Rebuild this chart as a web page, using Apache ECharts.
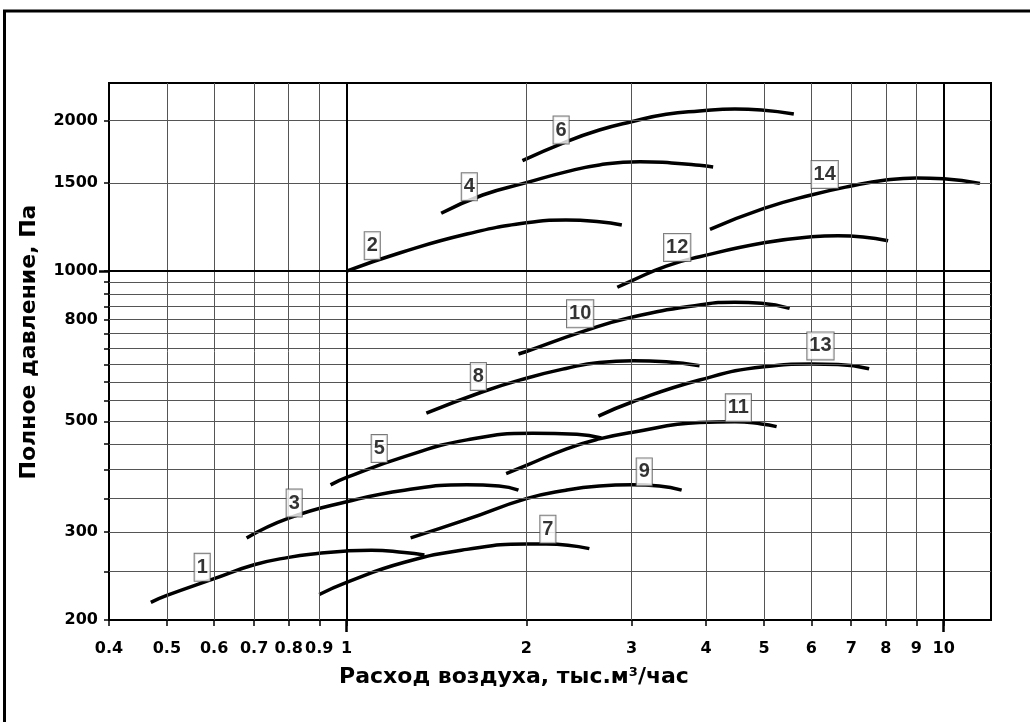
<!DOCTYPE html>
<html>
<head>
<meta charset="utf-8">
<script src="https://cdn.jsdelivr.net/npm/echarts@6/dist/echarts.min.js"></script>
<style>
  html, body { margin: 0; padding: 0; background: #fff; }
  #chart { width: 1030px; height: 722px; }
</style>
</head>
<body>
<div id="chart"></div>
<script>
// оси: расход воздуха (тыс. м3/час) и полное давление (Па), обе логарифмические
const xTickValues = [0.4, 0.5, 0.6, 0.7, 0.8, 0.9, 1, 2, 3, 4, 5, 6, 7, 8, 9, 10]
const xGridValues = [0.5, 0.6, 0.7, 0.8, 0.9, 2, 3, 4, 5, 6, 7, 8, 9]
const xBoldValues = [1, 10]
const yTickValues = [200, 250, 300, 350, 400, 450, 500, 550, 600, 650, 700, 750, 800, 850, 900, 950, 1000, 1500, 2000]
const yLabelValues = [200, 300, 500, 800, 1000, 1500, 2000]
const yGridValues = [250, 300, 350, 400, 450, 500, 550, 600, 650, 700, 750, 800, 850, 900, 950, 1500, 2000]
const yBoldValues = [1000]

// характеристики вентиляторов 1..14
const q1 = [0.47, 0.5, 0.6, 0.7, 0.8, 0.9, 1.0, 1.1, 1.25, 1.35]
const p1 = [217, 224, 242, 258, 267, 272, 275, 276, 273, 270]
const q2 = [1.0, 1.23, 1.59, 2.0, 2.33, 2.65, 2.89]
const p2 = [1000, 1088, 1186, 1249, 1265, 1255, 1236]
const q3 = [0.68, 0.8, 1.0, 1.25, 1.59, 1.8, 1.94]
const p3 = [292, 320, 345, 364, 373, 371, 364]
const q4 = [1.44, 1.69, 2.0, 2.33, 2.65, 3.1, 3.5, 3.9, 4.11]
const p4 = [1305, 1420, 1503, 1580, 1631, 1656, 1646, 1628, 1616]
const q5 = [0.94, 1.0, 1.25, 1.59, 2.05, 2.43, 2.67]
const p5 = [373, 386, 425, 459, 473, 471, 463]
const q6 = [1.97, 2.33, 2.65, 3.0, 3.43, 3.9, 4.47, 4.95, 5.61]
const p6 = [1664, 1815, 1916, 1991, 2060, 2091, 2111, 2101, 2063]
const q7 = [0.9, 1.0, 1.25, 1.59, 2.0, 2.16, 2.55]
const p7 = [225, 238, 261, 277, 284, 284, 278]
const q8 = [1.36, 1.69, 2.0, 2.33, 2.65, 3.02, 3.43, 3.9]
const p8 = [519, 573, 610, 638, 656, 661, 658, 646]
const q9 = [1.28, 1.59, 2.0, 2.33, 2.65, 3.0, 3.34, 3.64]
const p9 = [292, 318, 350, 364, 371, 373, 371, 364]
const q10 = [1.94, 2.0, 2.49, 3.0, 3.9, 4.47, 4.95, 5.52]
const p10 = [682, 690, 757, 808, 855, 866, 862, 842]
const q11 = [1.85, 2.0, 2.33, 2.65, 3.0, 3.9, 4.47, 4.95, 5.25]
const p11 = [393, 408, 440, 461, 475, 497, 499, 494, 488]
const q12 = [2.84, 3.0, 3.43, 3.9, 5.0, 6.0, 6.65, 8.07]
const p12 = [928, 956, 1023, 1068, 1139, 1171, 1177, 1150]
const q13 = [2.64, 3.0, 3.9, 5.0, 6.0, 6.65, 7.5]
const p13 = [512, 546, 605, 643, 651, 650, 637]
const q14 = [4.06, 5.0, 6.0, 7.0, 8.0, 9.0, 10.0, 11.5]
const p14 = [1212, 1335, 1420, 1480, 1521, 1536, 1531, 1498]

// подписи кривых (номера в рамках)
const labelText = ['1', '2', '3', '4', '5', '6', '7', '8', '9', '10', '11', '12', '13', '14']
const labelQ = [0.573, 1.104, 0.817, 1.605, 1.134, 2.287, 2.173, 1.662, 3.151, 2.461, 4.53, 3.578, 6.217, 6.32]
const labelP = [255, 1124, 343, 1475, 441, 1916, 304, 615, 396, 821, 532, 1115, 708, 1561]

const curvesQ = [q1, q2, q3, q4, q5, q6, q7, q8, q9, q10, q11, q12, q13, q14]
const curvesP = [p1, p2, p3, p4, p5, p6, p7, p8, p9, p10, p11, p12, p13, p14]

const tickFont = '"DejaVu Sans", Verdana, sans-serif'
const numFont = '"Liberation Sans", Arial, sans-serif'
const fmt = v => String(+Number(v).toPrecision(6))

let myChart = echarts.init(document.getElementById('chart'), null, { renderer: 'canvas' })

// сетка: тонкие линии + жирные на 1, 10 и 1000
const gridLines = []
xGridValues.forEach(v => gridLines.push({ xAxis: v }))
yGridValues.forEach(v => gridLines.push({ yAxis: v }))
xBoldValues.forEach(v => gridLines.push({ xAxis: v, lineStyle: { color: '#000', width: 2 } }))
yBoldValues.forEach(v => gridLines.push({ yAxis: v, lineStyle: { color: '#000', width: 2 } }))

const series = [
  {
    type: 'line',
    data: [],
    z: 1,
    markLine: {
      silent: true,
      symbol: ['none', 'none'],
      label: { show: false },
      animation: false,
      lineStyle: { color: '#555', width: 1, type: 'solid' },
      data: gridLines
    }
  }
]
curvesQ.forEach((q, i) => {
  series.push({
    name: labelText[i],
    type: 'line',
    smooth: true,
    showSymbol: false,
    symbol: 'none',
    z: 3,
    lineStyle: { color: '#000', width: 3.5 },
    data: q.map((v, j) => [v, curvesP[i][j]])
  })
})
series.push({
  type: 'scatter',
  z: 5,
  symbolSize: 1,
  itemStyle: { color: 'rgba(0,0,0,0)' },
  label: {
    show: true,
    position: 'inside',
    formatter: p => labelText[p.dataIndex],
    color: '#000',
    fontFamily: numFont,
    fontWeight: 'bold',
    fontSize: 20,
    lineHeight: 20,
    backgroundColor: '#fff',
    borderColor: '#555',
    borderWidth: 1,
    padding: [4, 2, 3, 2]
  },
  data: labelQ.map((v, i) => [v, labelP[i]])
})

const options = {
  animation: false,
  backgroundColor: '#fff',
  grid: {
    left: 109,
    right: 39,
    top: 83,
    bottom: 102,
    show: true,
    borderColor: '#000',
    borderWidth: 2
  },
  xAxis: [
    {
      type: 'log',
      logBase: 10,
      min: 0.4,
      max: 12,
      position: 'bottom',
      axisLine: { lineStyle: { color: '#000', width: 2 } },
      axisTick: { customValues: xTickValues, length: 6, lineStyle: { color: '#000', width: 1.5 } },
      axisLabel: {
        customValues: xTickValues,
        formatter: fmt,
        margin: 21,
        color: '#000',
        fontFamily: tickFont,
        fontWeight: 'bold',
        fontSize: 16
      },
      splitLine: { show: false },
      minorTick: { show: false }
    },
    {
      type: 'log',
      logBase: 10,
      min: 0.4,
      max: 12,
      position: 'bottom',
      axisLine: { show: false },
      axisTick: { customValues: xBoldValues, length: 12, lineStyle: { color: '#000', width: 2.5 } },
      axisLabel: { show: false },
      splitLine: { show: false }
    }
  ],
  yAxis: [
    {
      type: 'log',
      logBase: 10,
      min: 200,
      max: 2380,
      position: 'left',
      axisLine: { lineStyle: { color: '#000', width: 2 } },
      axisTick: { customValues: yTickValues, length: 5, lineStyle: { color: '#000', width: 1.5 } },
      axisLabel: {
        customValues: yLabelValues,
        formatter: fmt,
        margin: 11,
        color: '#000',
        fontFamily: tickFont,
        fontWeight: 'bold',
        fontSize: 16
      },
      splitLine: { show: false },
      minorTick: { show: false }
    },
    {
      type: 'log',
      logBase: 10,
      min: 200,
      max: 2380,
      position: 'left',
      axisLine: { show: false },
      axisTick: { customValues: yBoldValues, length: 10, lineStyle: { color: '#000', width: 2.5 } },
      axisLabel: { show: false },
      splitLine: { show: false }
    }
  ],
  graphic: [
    {
      type: 'rect',
      shape: { x: 4.5, y: 11, width: 1060, height: 760 },
      style: { fill: 'none', stroke: '#000', lineWidth: 3 },
      silent: true
    },
    {
      type: 'text',
      x: 514,
      y: 677,
      style: {
        text: 'Расход воздуха, тыс.м{s|3}/час',
        rich: { s: { fontSize: 13, fontWeight: 'bold', fontFamily: tickFont, verticalAlign: 'top' } },
        fill: '#000',
        font: 'bold 22px "DejaVu Sans", Verdana, sans-serif',
        align: 'center',
        verticalAlign: 'middle'
      }
    },
    {
      type: 'text',
      x: 29,
      y: 342,
      rotation: Math.PI / 2,
      style: {
        text: 'Полное давление, Па',
        fill: '#000',
        font: 'bold 22px "DejaVu Sans", Verdana, sans-serif',
        align: 'center',
        verticalAlign: 'middle'
      }
    }
  ],
  series: series
}

myChart.setOption(options)
</script>
</body>
</html>
